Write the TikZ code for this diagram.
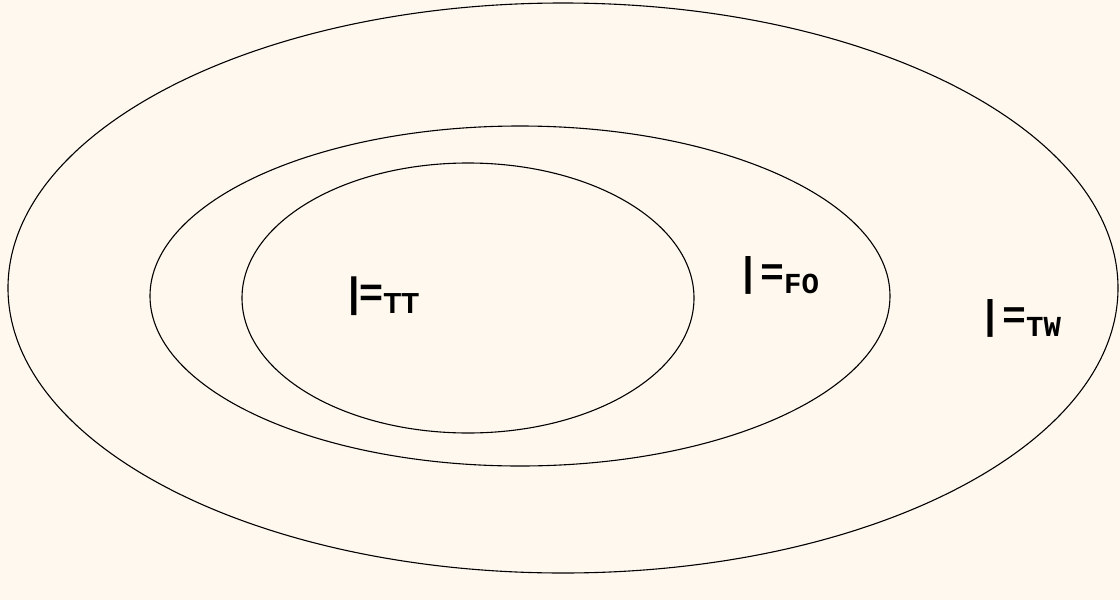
\documentclass[tikz,border=0pt]{standalone}
\usepackage{fontspec}
\newfontfamily\labsans{Liberation Sans}
\newfontfamily\labmono{Liberation Mono}
\definecolor{bg}{HTML}{FFF8EE}
\begin{document}
\begin{tikzpicture}[x=1pt,y=-1pt,
  ring/.style={draw=black,line width=1.1pt},
  lab/.style={anchor=base west,inner sep=0pt,text=black}]
\fill[bg] (0,0) rectangle (1120,600);
\useasboundingbox (0,0) rectangle (1120,600);
\draw[ring] (563,288) ellipse [x radius=555,y radius=285];
\draw[ring] (520,296) ellipse [x radius=370,y radius=170];
\draw[ring] (468,298) ellipse [x radius=226,y radius=135];
\node[lab] (tt) at (348,306) {\labsans\bfseries\fontsize{41}{41}\selectfont |=\raisebox{-7pt}{\fontsize{29}{29}\selectfont TT}};
\node[lab] (fo) at (736,285) {\labmono\bfseries\fontsize{40}{40}\selectfont |=\raisebox{-8pt}{\fontsize{29}{29}\selectfont FO}};
\node[lab] (tw) at (978,328) {\labmono\bfseries\fontsize{40}{40}\selectfont |=\raisebox{-8pt}{\fontsize{29}{29}\selectfont TW}};
\end{tikzpicture}
\end{document}
